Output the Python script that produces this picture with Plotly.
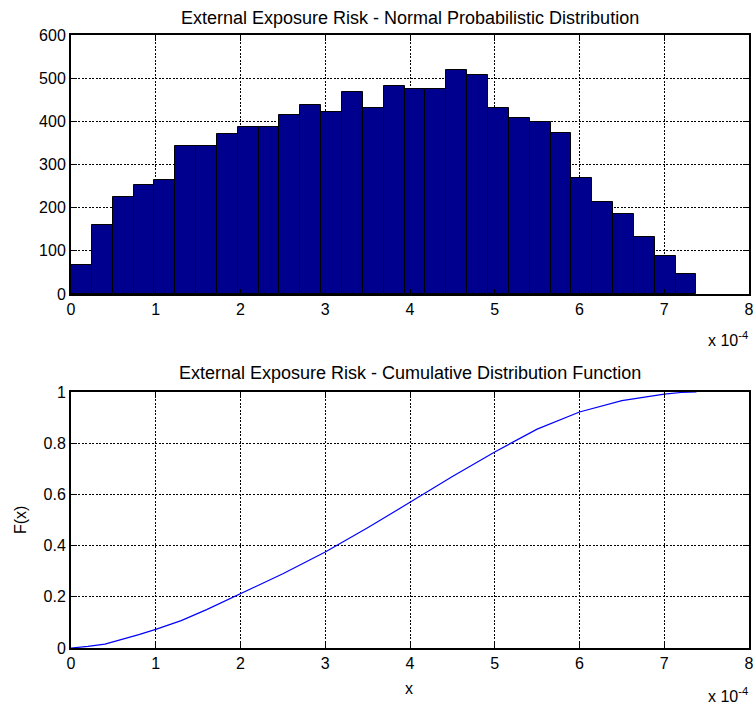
import plotly.graph_objects as go

# Histogram (x in units of 1e-4)
bin_width = 0.246
bin_centers = [bin_width * (i + 0.5) for i in range(30)]
counts = [67, 160, 224, 252, 265, 344, 344, 371, 388, 388,
          415, 439, 421, 469, 430, 481, 475, 475, 519, 507,
          430, 407, 398, 373, 268, 214, 186, 132, 88, 46]

# CDF (x in units of 1e-4)
cdf_x = [0, 0.2, 0.4, 0.6, 0.8, 1.0, 1.3, 1.6, 2.0, 2.5, 3.0, 3.5,
         4.0, 4.5, 5.0, 5.5, 6.0, 6.5, 7.0, 7.2, 7.38]
cdf_y = [0.0, 0.006, 0.015, 0.032, 0.052, 0.073, 0.107, 0.150, 0.211, 0.290,
         0.375, 0.470, 0.569, 0.670, 0.766, 0.855, 0.922, 0.966, 0.992, 0.998, 1.0]

x_ticks = [0, 1, 2, 3, 4, 5, 6, 7, 8]
x_ticktext = ["0", "1", "2", "3", "4", "5", "6", "7", "8"]
hist_yticks = [0, 100, 200, 300, 400, 500, 600]
cdf_yticks = [0, 0.2, 0.4, 0.6, 0.8, 1]
cdf_yticktext = ["0", "0.2", "0.4", "0.6", "0.8", "1"]

FONT = "Liberation Sans, Arial, sans-serif"
FS = 16
TFS = 18

W = 753
H = 706
L = 71
R_EDGE = 749
PW = float(R_EDGE - L)

fig = go.Figure()
fig.add_trace(go.Bar(x=bin_centers, y=counts, width=bin_width,
                     marker=dict(color="#00008F", line=dict(color="black", width=1)),
                     xaxis="x", yaxis="y", showlegend=False))
fig.add_trace(go.Scatter(x=cdf_x, y=cdf_y, mode="lines",
                         line=dict(color="#0000FF", width=1.2),
                         xaxis="x2", yaxis="y2", showlegend=False, cliponaxis=False))

def dom(top, bot):
    return [1 - bot / H, 1 - top / H]

axis_common = dict(showline=True, linecolor="black", linewidth=2, mirror="allticks",
                   ticks="inside", ticklen=5, tickcolor="black", tickwidth=1,
                   showgrid=True, gridcolor="black", gridwidth=1, griddash="2px,1.5px",
                   zeroline=False, automargin=False, ticklabeloverflow="allow",
                   tickfont=dict(family=FONT, size=FS, color="black"))

fig.update_layout(
    width=W, height=H,
    margin=dict(l=L, r=W - R_EDGE, t=0, b=0),
    paper_bgcolor="white", plot_bgcolor="white",
    bargap=0,
    xaxis=dict(domain=[0, 1], range=[0, 8], tickvals=x_ticks, ticktext=x_ticktext,
               anchor="y", **axis_common),
    yaxis=dict(domain=dom(35, 294), range=[0, 600], tickvals=hist_yticks, anchor="x", **axis_common),
    xaxis2=dict(domain=[0, 1], range=[0, 8], tickvals=x_ticks, ticktext=x_ticktext,
                anchor="y2", **axis_common),
    yaxis2=dict(domain=dom(392, 648), range=[0, 1], tickvals=cdf_yticks,
                ticktext=cdf_yticktext, anchor="x2", **axis_common),
    font=dict(family=FONT, size=FS, color="black"),
)

def px_x(x):
    return (x - L) / PW

def px_y(y):
    return 1 - y / H

ann = [
    dict(text="External Exposure Risk - Normal Probabilistic Distribution",
         x=410, y=18, size=TFS, anchor="center"),
    dict(text="External Exposure Risk - Cumulative Distribution Function",
         x=410, y=373, size=TFS, anchor="center"),
    dict(text="x 10<sup>-4</sup>", x=750, y=339, size=FS, anchor="right"),
    dict(text="x 10<sup>-4</sup>", x=750, y=695, size=FS, anchor="right"),
    dict(text="x", x=409, y=688, size=FS, anchor="center"),
]
for a in ann:
    fig.add_annotation(text=a["text"], xref="paper", yref="paper",
                       x=px_x(a["x"]), y=px_y(a["y"]),
                       xanchor=a["anchor"], yanchor="middle", showarrow=False,
                       font=dict(family=FONT, size=a["size"], color="black"))
fig.add_annotation(text="F(x)", xref="paper", yref="paper",
                   x=px_x(20), y=px_y(520), textangle=-90,
                   xanchor="center", yanchor="middle", showarrow=False,
                   font=dict(family=FONT, size=FS, color="black"))

fig.write_html(
    "out.html",
    config={"displayModeBar": False},
    post_script="document.body.style.margin='0';document.body.style.overflow='hidden';",
)
